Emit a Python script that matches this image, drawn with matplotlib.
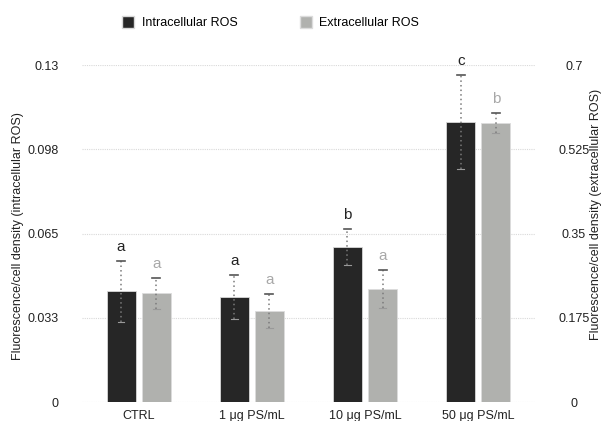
import matplotlib
matplotlib.use("Agg")
import matplotlib.pyplot as plt
from matplotlib.patches import Patch
import numpy as np

plt.rcParams['font.family'] = ['Liberation Sans', 'DejaVu Sans']

# dati
gruppi = ["CTRL", "1 μg PS/mL", "10 μg PS/mL", "50 μg PS/mL"]
intra = [0.0428, 0.0405, 0.0598, 0.1080]
intra_err = [0.0118, 0.0085, 0.0068, 0.0180]
intra_lettere = ["a", "a", "b", "c"]
extra = [0.226, 0.189, 0.235, 0.579]
extra_err = [0.032, 0.035, 0.039, 0.021]
extra_lettere = ["a", "a", "a", "b"]

sx_ticks = [0, 0.0325, 0.065, 0.0975, 0.13]
sx_labels = ["0", "0.033", "0.065", "0.098", "0.13"]
dx_ticks = [0, 0.175, 0.35, 0.525, 0.7]
dx_labels = ["0", "0.175", "0.35", "0.525", "0.7"]

col_scuro = "#262626"
col_chiaro = "#b0b1ae"

fig = plt.figure(figsize=(6.03, 4.21), dpi=100)
ax = fig.add_axes([0.136, 0.045, 0.751, 0.8005])
ax2 = ax.twinx()

x = np.arange(len(gruppi))
w = 0.256
off = 0.155

ax.bar(x - off, intra, w, color=col_scuro, edgecolor="#d8d8d8", linewidth=0.6, zorder=2)
ax2.bar(x + off, extra, w, color=col_chiaro, edgecolor="#dcdcdc", linewidth=0.6, zorder=2)

def barre_errore(asse, xs, vals, errs, lettere, col_lettera):
    for xi, v, e, l in zip(xs, vals, errs, lettere):
        asse.plot([xi, xi], [v - e, v + e], color="#7a7a7a", lw=1.1,
                  linestyle=(0, (1, 2)), zorder=3)
        asse.plot([xi - 0.035, xi + 0.035], [v + e, v + e], color="#555555", lw=1.2, zorder=3)
        asse.plot([xi - 0.03, xi + 0.03], [v - e, v - e], color="#999999", lw=0.8, zorder=3)
        asse.annotate(l, (xi, v + e), xytext=(0, 5), textcoords="offset points",
                      ha="center", va="bottom", fontsize=11, color=col_lettera)

barre_errore(ax, x - off, intra, intra_err, intra_lettere, "#222222")
barre_errore(ax2, x + off, extra, extra_err, extra_lettere, "#a8a8a8")

ax.set_xlim(-0.5, len(gruppi) - 0.5)
ax.set_ylim(0, 0.13)
ax2.set_ylim(0, 0.7)
ax.set_yticks(sx_ticks, sx_labels)
ax2.set_yticks(dx_ticks, dx_labels)
ax.set_xticks(x, gruppi)

for a in (ax, ax2):
    for s in a.spines.values():
        s.set_visible(False)
    a.tick_params(length=0, labelsize=9, colors="#222222")
ax.tick_params(axis="y", pad=17)
ax.tick_params(axis="x", pad=6)
for t in ax2.get_yticklabels():
    t.set_horizontalalignment("center")
ax2.tick_params(axis="y", pad=28)

ax.grid(axis="y", color="#d9d9d9", linestyle=(0, (1, 1)), linewidth=0.8, zorder=0)
ax.set_axisbelow(True)

fig.text(0.03, 0.44, "Fluorescence/cell density (intracellular ROS)", rotation=90,
         ha="center", va="center", fontsize=9, color="#222222")
fig.text(0.989, 0.49, "Fluorescence/cell density (extracellular ROS)", rotation=90,
         ha="center", va="center", fontsize=9, color="#222222")

# legenda in alto
maniglie = [Patch(facecolor=col_scuro, edgecolor="#d8d8d8", label="Intracellular ROS"),
            Patch(facecolor=col_chiaro, edgecolor="#dcdcdc", label="Extracellular ROS")]
fig.legend(handles=maniglie, loc="center", bbox_to_anchor=(0.449, 0.946), ncol=2,
           frameon=False, fontsize=9, handlelength=0.95, handleheight=1.15,
           columnspacing=5.0, handletextpad=0.6)

fig.savefig("out.png", dpi=100)
